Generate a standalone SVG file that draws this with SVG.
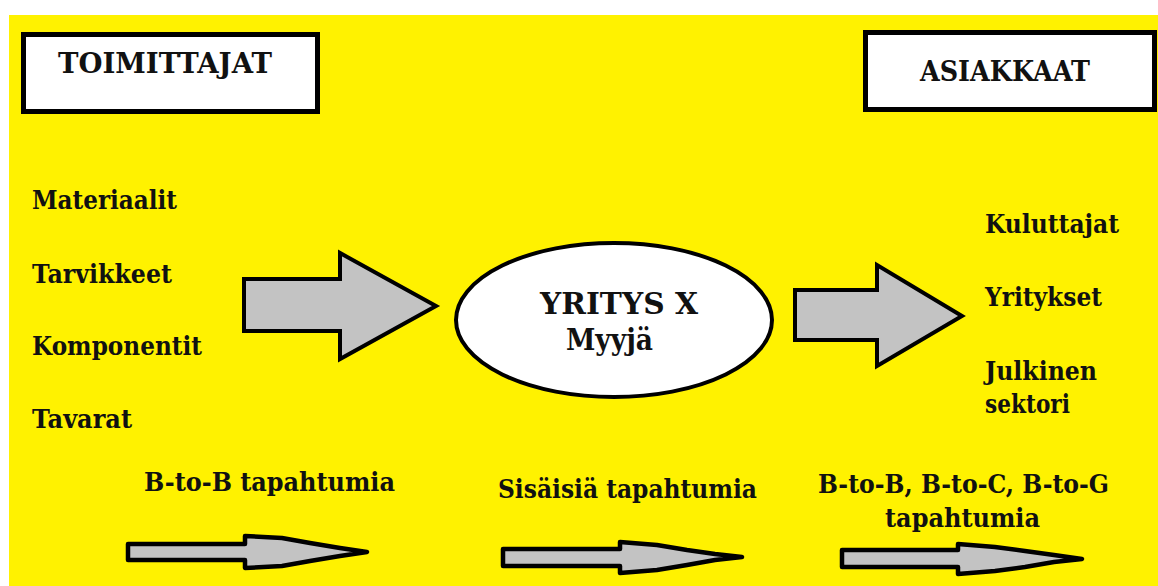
<svg xmlns="http://www.w3.org/2000/svg" width="1158" height="586" viewBox="0 0 1158 586">
  <style>
    .bg { fill: #fff200; }
    .box { fill: #ffffff; stroke: #000000; stroke-width: 5; }
    .big { fill: #c3c3c3; stroke: #000000; stroke-width: 4; stroke-linejoin: miter; }
    .thin { fill: #c3c3c3; stroke: #000000; stroke-width: 4.5; stroke-linejoin: round; }
    .oval { fill: #ffffff; stroke: #000000; stroke-width: 4; }
    .hdr { font-size: 28px; }
    .mid { font-size: 30px; }
    .lbl { font-size: 26px; }
  </style>

  <rect x="0" y="0" width="1158" height="586" fill="#ffffff"/>
  <rect class="bg" x="9" y="15" width="1149" height="571"/>

  <g font-family="'DejaVu Serif', 'Liberation Serif', serif" font-weight="bold" fill="#111111">
    <g id="toimittajat">
      <rect class="box" x="23.5" y="34.5" width="294" height="77"/>
      <text class="hdr" x="58" y="73" textLength="214" lengthAdjust="spacingAndGlyphs">TOIMITTAJAT</text>
    </g>

    <g id="asiakkaat">
      <rect class="box" x="865.5" y="32.5" width="289" height="77"/>
      <text class="hdr" x="920" y="81" textLength="170" lengthAdjust="spacingAndGlyphs">ASIAKKAAT</text>
    </g>

    <g id="supplies">
      <text class="lbl" x="32" y="209" textLength="145" lengthAdjust="spacingAndGlyphs">Materiaalit</text>
      <text class="lbl" x="32" y="283" textLength="140" lengthAdjust="spacingAndGlyphs">Tarvikkeet</text>
      <text class="lbl" x="32" y="355" textLength="170" lengthAdjust="spacingAndGlyphs">Komponentit</text>
      <text class="lbl" x="32" y="428" textLength="100" lengthAdjust="spacingAndGlyphs">Tavarat</text>
    </g>

    <g id="yritys">
      <ellipse class="oval" cx="614" cy="320" rx="158" ry="77"/>
      <text class="mid" x="540" y="314" textLength="158" lengthAdjust="spacingAndGlyphs">YRITYS X</text>
      <text class="mid" x="566" y="350" textLength="87" lengthAdjust="spacingAndGlyphs">Myyjä</text>
    </g>

    <g id="customers">
      <text class="lbl" x="985" y="233" textLength="134" lengthAdjust="spacingAndGlyphs">Kuluttajat</text>
      <text class="lbl" x="985" y="306" textLength="117" lengthAdjust="spacingAndGlyphs">Yritykset</text>
      <text class="lbl" x="985" y="380" textLength="112" lengthAdjust="spacingAndGlyphs">Julkinen</text>
      <text class="lbl" x="985" y="413" textLength="85" lengthAdjust="spacingAndGlyphs">sektori</text>
    </g>

    <g id="transactions">
      <text class="lbl" x="144" y="491" textLength="251" lengthAdjust="spacingAndGlyphs">B-to-B tapahtumia</text>
      <text class="lbl" x="498" y="498" textLength="259" lengthAdjust="spacingAndGlyphs">Sisäisiä tapahtumia</text>
      <text class="lbl" x="818" y="493" textLength="291" lengthAdjust="spacingAndGlyphs">B-to-B, B-to-C, B-to-G</text>
      <text class="lbl" x="885" y="527" textLength="155" lengthAdjust="spacingAndGlyphs">tapahtumia</text>
    </g>
  </g>

  <g id="connectors">
    <!-- block arrows: suppliers to company, company to customers -->
    <polygon class="big" points="244,279 340,279 340,253 436,306 340,359 340,331 244,331"/>
    <polygon class="big" points="795,290 877,290 877,265 962,316 877,366 877,340 795,340"/>
    <!-- thin tapering arrows along the bottom -->
    <polygon class="thin" points="128,544 245,544 245,536 282,538 310,543 340,548 367,552 340,556 310,561 282,566 245,568 245,560 128,560"/>
    <polygon class="thin" points="503,549 620,549 620,542 657,545 687,550 715,554 742,557 715,560 687,565 657,570 620,573 620,566 503,566"/>
    <polygon class="thin" points="842,550 958,550 958,544 995,547 1025,551 1054,555 1082,559 1054,562 1025,567 995,571 958,574 958,567 842,567"/>
  </g>
</svg>
